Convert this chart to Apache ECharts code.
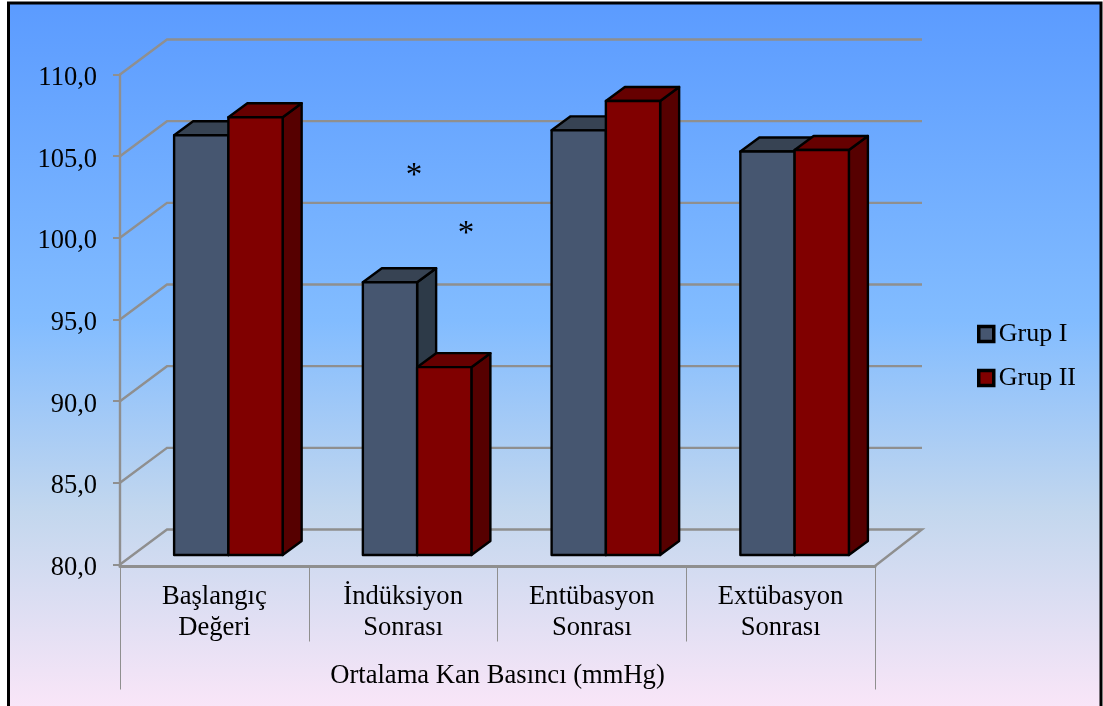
<!DOCTYPE html>
<html>
<head>
<meta charset="utf-8">
<style>html,body{margin:0;padding:0;background:#fff}#chart{width:1103px;height:706px}</style>
<script src="https://cdn.jsdelivr.net/npm/echarts@6/dist/echarts.min.js"></script>
</head>
<body>
<div id="chart"></div>
<script>
// Mean arterial pressure by measurement stage
const categories = ['Başlangıç\nDeğeri', 'İndüksiyon\nSonrası', 'Entübasyon\nSonrası', 'Extübasyon\nSonrası'];
const outerCategory = ['Ortalama Kan Basıncı (mmHg)'];
const grupI = [105.7, 96.7, 106.0, 104.7];
const grupII = [106.8, 91.5, 107.8, 104.8];
const yTicks = [80, 85, 90, 95, 100, 105, 110];

const FONT = '"Liberation Serif", "Times New Roman", serif';
const GRID_LINE = '#8f8f8f';

// Oblique projection of the chart box
const WALL_DX = 47, WALL_DY = -35;
const FLOOR_DROP = 1.5;
const BAR_INSET_DX = 14, BAR_INSET_DY = -9.5;
const BAR_DEPTH_DX = 19, BAR_DEPTH_DY = -14;
const BAR_SHARE = 0.2875;

function gridLines(params, api) {
  const v = api.value(0);
  const cs = params.coordSys;
  const y = api.coord([0, v])[1];
  const left = cs.x, right = cs.x + cs.width;
  const points = [[left, y], [left + WALL_DX, y + WALL_DY], [right + WALL_DX, y + WALL_DY]];
  if (v === yTicks[0]) points.push([right, y + FLOOR_DROP]);
  return {
    type: 'polyline',
    shape: { points },
    style: { stroke: GRID_LINE, lineWidth: 2.4, fill: null }
  };
}

function cuboid(slot, colors) {
  return function (params, api) {
    const cat = api.value(0), v = api.value(1);
    const center = api.coord([cat, v]);
    const base = api.coord([cat, yTicks[0]]);
    const w = api.size([1, 0])[0] * BAR_SHARE;
    const x0 = center[0] + BAR_INSET_DX + (slot - 1) * w;
    const x1 = x0 + w;
    const yTop = center[1] + BAR_INSET_DY;
    const yBot = base[1] + BAR_INSET_DY;
    const dx = BAR_DEPTH_DX, dy = BAR_DEPTH_DY;
    const edge = { stroke: '#000', lineWidth: 2.4, lineJoin: 'round' };
    return {
      type: 'group',
      children: [
        { type: 'polygon', shape: { points: [[x1, yBot], [x1 + dx, yBot + dy], [x1 + dx, yTop + dy], [x1, yTop]] },
          style: Object.assign({ fill: colors.side }, edge) },
        { type: 'polygon', shape: { points: [[x0, yTop], [x0 + dx, yTop + dy], [x1 + dx, yTop + dy], [x1, yTop]] },
          style: Object.assign({ fill: colors.top }, edge) },
        { type: 'rect', shape: { x: x0, y: yTop, width: w, height: yBot - yTop },
          style: Object.assign({ fill: colors.front }, edge) }
      ]
    };
  };
}

const chart = echarts.init(document.getElementById('chart'), null, { renderer: 'canvas' });
chart.setOption({
  animation: false,
  backgroundColor: '#fff',
  textStyle: { fontFamily: FONT, color: '#000' },
  graphic: [
    { type: 'rect', z: -10, silent: true,
      shape: { x: 8.5, y: 3, width: 1092.5, height: 706 },
      style: {
        stroke: '#000', lineWidth: 3,
        fill: new echarts.graphic.LinearGradient(0, 0, 0, 1, [
          { offset: 0, color: '#5b9bff' },
          { offset: 0.45, color: '#82bcff' },
          { offset: 0.72, color: '#c3d7ee' },
          { offset: 1, color: '#fae6f8' }
        ])
      } },
    { type: 'text', x: 414, y: 176, z: 20, style: { text: '*', font: '33px ' + FONT, fill: '#000', align: 'center', verticalAlign: 'middle' } },
    { type: 'text', x: 466, y: 234, z: 20, style: { text: '*', font: '33px ' + FONT, fill: '#000', align: 'center', verticalAlign: 'middle' } }
  ],
  legend: {
    orient: 'vertical', left: 977, top: 321, padding: 0, itemWidth: 15, itemHeight: 15, itemGap: 18,
    icon: 'rect',
    data: ['Grup I', 'Grup II'],
    textStyle: { fontFamily: FONT, fontSize: 26, color: '#000' },
    itemStyle: { borderColor: '#000', borderWidth: 3.5 }
  },
  grid: { left: 120, top: 74.5, width: 755, height: 490 },
  xAxis: [
    { type: 'category', data: categories, position: 'bottom', offset: FLOOR_DROP,
      axisLine: { lineStyle: { color: GRID_LINE, width: 3 } },
      axisTick: { show: true, length: 75.5, lineStyle: { color: GRID_LINE, width: 1 } },
      axisLabel: { fontFamily: FONT, fontSize: 26.6, lineHeight: 31, margin: 16, color: '#000', interval: 0 },
      splitLine: { show: false } },
    { type: 'category', data: outerCategory, position: 'bottom', offset: FLOOR_DROP,
      axisLine: { show: false },
      axisTick: { show: true, length: 123.5, lineStyle: { color: GRID_LINE, width: 1 } },
      axisLabel: { fontFamily: FONT, fontSize: 26.6, margin: 96.5, color: '#000' },
      splitLine: { show: false } }
  ],
  yAxis: {
    type: 'value', min: 80, max: 110, interval: 5,
    axisLine: { show: true, lineStyle: { color: GRID_LINE, width: 2.4 } },
    axisTick: { show: true, length: 7, lineStyle: { color: GRID_LINE, width: 2 } },
    axisLabel: { margin: 23,
      formatter: v => '{tick|' + v.toFixed(1).replace('.', ',') + '}',
      rich: { tick: { fontFamily: FONT, fontSize: 26.5, color: '#000', padding: [7, 0, 0, 0] } } },
    splitLine: { show: false }
  },
  series: [
    { type: 'custom', name: 'walls', clip: false, silent: true, z: 1, renderItem: gridLines,
      encode: { y: 0 }, data: yTicks.map(v => [v]) },
    { type: 'custom', name: 'Grup I', clip: false, z: 2,
      itemStyle: { color: '#465670' },
      renderItem: cuboid(0, { front: '#465670', top: '#374353', side: '#2d3a48' }),
      encode: { x: 0, y: 1 }, data: grupI.map((v, i) => [i, v]) },
    { type: 'custom', name: 'Grup II', clip: false, z: 3,
      itemStyle: { color: '#800000' },
      renderItem: cuboid(1, { front: '#800000', top: '#660000', side: '#560000' }),
      encode: { x: 0, y: 1 }, data: grupII.map((v, i) => [i, v]) }
  ]
});
</script>
</body>
</html>
